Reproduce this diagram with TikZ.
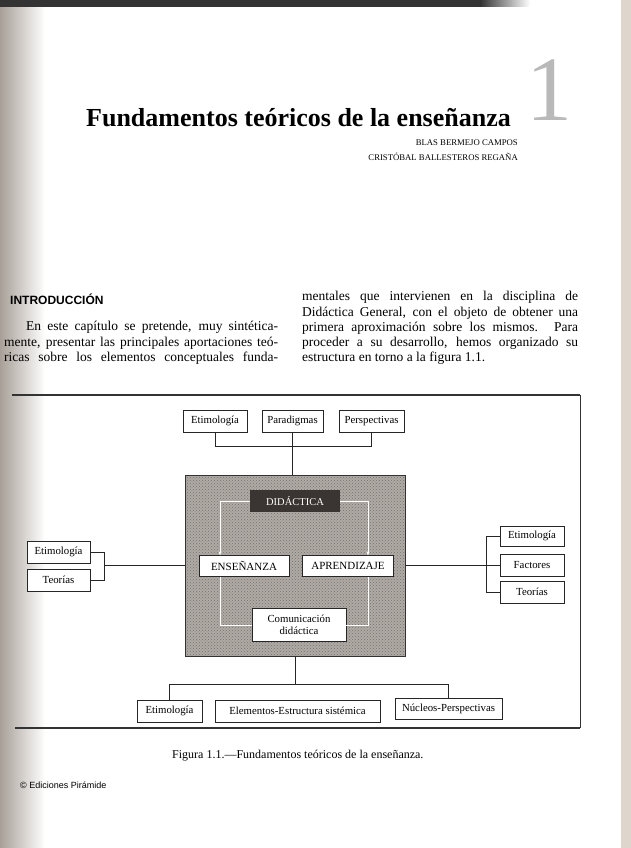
\documentclass[tikz,border=0pt]{standalone}
\usepackage{fontspec}
\setmainfont{Liberation Serif}
\setsansfont{Liberation Sans}
\usetikzlibrary{arrows.meta, positioning, calc, patterns}
\definecolor{coregray}{RGB}{176,170,164}
\definecolor{didacdark}{RGB}{58,53,50}
\definecolor{scanshadow}{RGB}{168,160,152}
\definecolor{scanbeige}{RGB}{222,214,204}
\tikzset{
    lbl/.style={rectangle, draw=black!85, fill=white, text centered, inner sep=1pt, minimum height=22pt, font=\fontsize{10.8}{12}\selectfont},
    capbox/.style={lbl, minimum height=21pt, font=\fontsize{11}{13}\selectfont},
    txt/.style={anchor=base west, inner sep=0pt, font=\fontsize{13.5}{15}\selectfont},
    loopline/.style={draw=white, thin},
    link/.style={draw=black!85, thin}
}

\begin{document}
\begin{tikzpicture}[x=1pt, y=-1pt]
        \useasboundingbox (0,0) rectangle (631,848);
        % Scan edges
        \shade[left color=scanshadow, right color=white] (0,0) rectangle (45,848);
        \fill[scanbeige] (621,0) rectangle (631,848);
        \fill[black!80] (0,0) rectangle (480,7);
        \shade[left color=black!80, right color=white] (480,0) rectangle (530,7);
        
        % Heading
        \node (chapnum) at (549,121) [anchor=base, inner sep=0pt, text=gray!55, font=\fontsize{92}{92}\selectfont] {1};
        \node (title) at (86,127) [anchor=base west, inner sep=0pt, font=\fontsize{26}{30}\bfseries] {Fundamentos teóricos de la enseñanza};
        \node (author1) at (518,146) [anchor=base east, inner sep=0pt, font=\fontsize{8.7}{11}\selectfont] {BLAS BERMEJO CAMPOS};
        \node (author2) at (518,160) [anchor=base east, inner sep=0pt, font=\fontsize{8.7}{11}\selectfont] {CRISTÓBAL BALLESTEROS REGAÑA};
        
        % Introduction text
        \node (intro) at (10,304) [anchor=base west, inner sep=0pt, font=\fontsize{12}{14}\sffamily\bfseries] {INTRODUCCIÓN};
        \node (left1) at (26,330) [txt] {\makebox[252pt][s]{En este capítulo se pretende, muy sintética-}};
        \node (left2) at (4,346) [txt] {\makebox[274pt][s]{mente, presentar las principales aportaciones teó-}};
        \node (left3) at (4,361) [txt] {\makebox[274pt][s]{ricas sobre los elementos conceptuales funda-}};
        \node (right1) at (302,300) [txt] {\makebox[276pt][s]{mentales que intervienen en la disciplina de}};
        \node (right2) at (302,316) [txt] {\makebox[276pt][s]{Didáctica General, con el objeto de obtener una}};
        \node (right3) at (302,331) [txt] {\makebox[276pt][s]{primera aproximación sobre los mismos. Para}};
        \node (right4) at (302,346) [txt] {\makebox[276pt][s]{proceder a su desarrollo, hemos organizado su}};
        \node (right5) at (302,361) [txt] {estructura en torno a la figura 1.1.};
        
        % Figure frame
        \draw[line width=1.6pt, black!80] (12,395) -- (580,395);
        \draw[black!80] (580,395) -- (580,728);
        \draw[line width=1.6pt, black!80] (15,728) -- (580,728);
        
        % Core block
        \node (core) at (295,565.5) [draw=black!80, minimum width=220pt, minimum height=181pt, inner sep=0pt, preaction={fill=coregray}, pattern=crosshatch dots, pattern color=black!55] {};
        \node (didac) at (295,501) [fill=didacdark, text=white, minimum width=90pt, minimum height=22pt, inner sep=1pt, font=\fontsize{10.5}{12}\selectfont] {DIDÁCTICA};
        \node (ens) at (244,566) [capbox, minimum width=90pt] {ENSEÑANZA};
        \node (apr) at (348,566) [capbox, minimum width=91pt] {APRENDIZAJE};
        \node (com) at (299,625) [lbl, minimum width=94pt, minimum height=33pt, align=center] {Comunicación\\didáctica};
        
        % Outer boxes
        \node (topeti) at (215,421) [lbl, minimum width=64pt] {Etimología};
        \node (toppar) at (292.5,421) [lbl, minimum width=61pt] {Paradigmas};
        \node (topper) at (371.5,421) [lbl, minimum width=65pt] {Perspectivas};
        \node (lefteti) at (58.5,552) [lbl, minimum width=63pt] {Etimología};
        \node (leftteo) at (58.5,580) [lbl, minimum width=63pt] {Teorías};
        \node (righteti) at (532,536) [lbl, minimum width=64pt, minimum height=20pt] {Etimología};
        \node (rightfac) at (532,565.5) [lbl, minimum width=64pt] {Factores};
        \node (rightteo) at (532,592) [lbl, minimum width=64pt] {Teorías};
        \node (boteti) at (169.5,711) [lbl, minimum width=65pt] {Etimología};
        \node (botele) at (297.5,711) [lbl, minimum width=165pt] {Elementos-Estructura sistémica};
        \node (botnuc) at (448.5,709) [lbl, minimum width=107pt, minimum height=21pt] {Núcleos-Perspectivas};
        
        % Inner cycle
        \draw[loopline, -{Stealth[length=4pt, width=3pt]}] (didac.west) -| ([xshift=-24pt]ens.north);
        \draw[loopline, -{Stealth[length=4pt, width=3pt]}] (didac.east) -| ([xshift=20pt]apr.north);
        \draw[loopline] ([xshift=-24pt]ens.south) |- (com.west);
        \draw[loopline] (com.east) -| ([xshift=20pt]apr.south);
        
        % Connectors
        \draw[link] (topeti.south) -- ++(0,14) -| (topper.south);
        \draw[link] (toppar.south) -- (toppar.south |- core.north);
        \draw[link] (lefteti.east) -- ++(14,0) coordinate (lbrace);
        \draw[link] (lbrace) |- (leftteo.east);
        \draw[link] (core.west) -- (core.west -| lbrace);
        \draw[link] (righteti.west) -- ++(-14,0) coordinate (rbrace);
        \draw[link] (rbrace) |- (rightteo.west);
        \draw[link] (core.east) -- (rightfac.west);
        \draw[link] (core.south) -- ++(0,28) coordinate (botjoin);
        \draw[link] (boteti.north) |- (botjoin) -| (botnuc.north);
        
        % Caption and footer
        \node (caption) at (172,758) [anchor=base west, inner sep=0pt, font=\fontsize{12}{14}\selectfont] {Figura 1.1.—Fundamentos teóricos de la enseñanza.};
        \node (footer) at (20,788) [anchor=base west, inner sep=0pt, font=\fontsize{9}{11}\sffamily] {© Ediciones Pirámide};
\end{tikzpicture}
\end{document}
